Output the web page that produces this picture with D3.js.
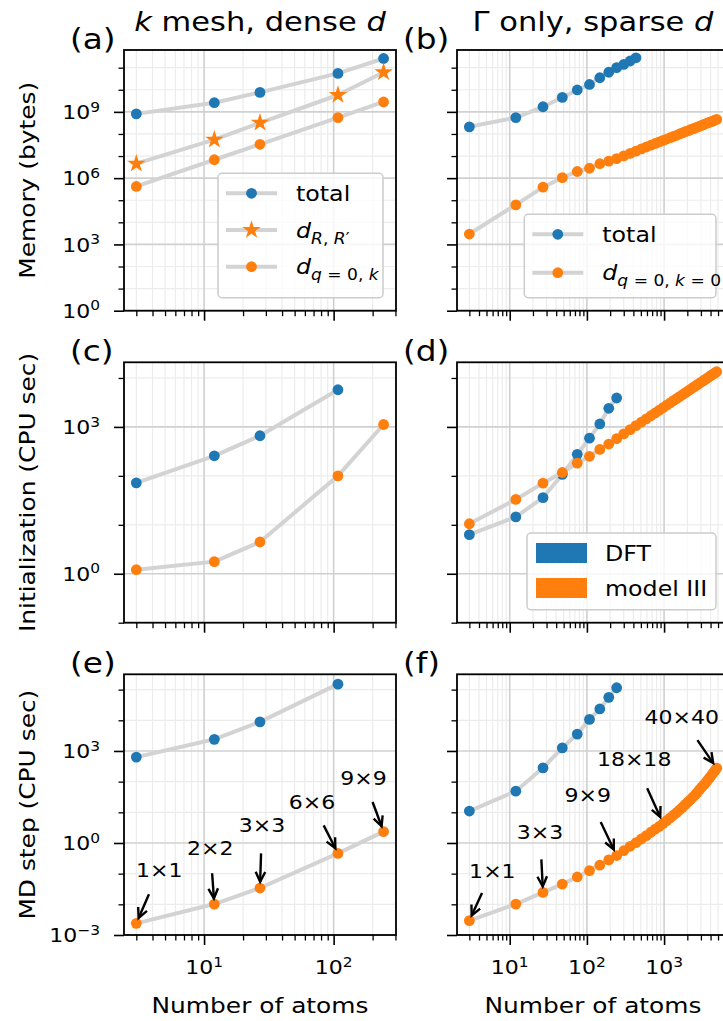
<!DOCTYPE html>
<html>
<head>
<meta charset="utf-8">
<script src="https://cdn.jsdelivr.net/npm/d3@7"></script>
<style>
  body { margin: 0; background: #fff; }
  svg { display: block; font-family: "DejaVu Sans", sans-serif; }
</style>
</head>
<body>
<div id="graph"></div>
<script>
// atoms per cell = 3, supercells 1x1 ... 40x40
var atomsK = [3, 12, 27, 108, 243];
var atomsG = [3, 12, 27, 48, 75, 108, 147, 192, 243, 300, 363, 432, 507, 588, 675, 768, 867, 972, 1083, 1200,
  1323, 1452, 1587, 1728, 1875, 2028, 2187, 2352, 2523, 2700, 2883, 3072, 3267, 3468, 3675, 3888, 4107, 4332, 4563, 4800];

// memory (bytes)
var memKTotal = [8.1e8, 2.6e9, 7.6e9, 5.5e10, 2.6e11];
var memKdRR = [4.5e6, 5.5e7, 3.2e8, 5.8e9, 6.2e10];
var memKdq = [4.2e5, 6.8e6, 3.4e7, 5.5e8, 2.8e9];
var memGTotal = [2.1e8, 5.5e8, 1.7e9, 4.5e9, 9.8e9, 1.74e10, 3.5e10, 6.2e10, 1.0e11, 1.4e11, 2.0e11, 2.8e11];
var memGdq = [2.95e3, 6.2e4, 3.9e5, 1.05e6, 2.0e6, 2.8e6, 4.5e6, 5.9e6, 7.6e6, 1.01e7, 1.32e7, 1.66e7, 2.09e7,
  2.57e7, 3.09e7, 3.72e7, 4.37e7, 5.13e7, 5.89e7, 6.76e7, 7.76e7, 8.71e7, 1.0e8, 1.12e8, 1.26e8, 1.38e8, 1.55e8,
  1.70e8, 1.86e8, 2.04e8, 2.24e8, 2.45e8, 2.69e8, 2.88e8, 3.16e8, 3.39e8, 3.63e8, 3.89e8, 4.27e8, 4.57e8];

// initialization (CPU sec)
var initKDft = [72, 257, 660, 5750];
var initKModel = [1.21, 1.77, 4.45, 100, 1120];
var initGDft = [6.3, 14.5, 36, 107, 275, 590, 1150, 2400, 3900];
var initGModel = [10.5, 33, 71, 117, 182, 251, 347, 447, 575, 720, 880, 1060, 1250, 1460, 1690, 1940, 2200, 2480,
  2790, 3100, 3440, 3790, 4160, 4550, 4970, 5400, 5830, 6310, 6790, 7300, 7820, 8360, 8910, 9480, 10100, 10700,
  11400, 12000, 12700, 13400];

// MD step (CPU sec)
var mdKDft = [631, 2400, 8900, 1.51e5];
var mdKModel = [2.4e-3, 1.02e-2, 3.4e-2, 0.457, 2.34];
var mdGDft = [11, 49, 282, 1260, 3550, 1.07e4, 2.34e4, 5.6e4, 1.15e5];
var mdGModel = [2.95e-3, 1.02e-2, 2.45e-2, 4.57e-2, 7.8e-2, 0.126, 0.19, 0.28, 0.39, 0.56, 0.78, 1.02, 1.35, 1.74,
  2.24, 2.82, 3.47, 4.37, 5.37, 6.61, 8.13, 9.77, 12.0, 14.5, 17.8, 21.4, 25.7, 30.9, 37.2, 44.7, 55.0, 66.1,
  77.6, 93.3, 112, 135, 162, 195, 229, 275];

var kLabels = ["1×1", "2×2", "3×3", "6×6", "9×9"];
var gLabels = ["1×1", "3×3", "9×9", "18×18", "40×40"];
var gLabelIdx = [0, 2, 8, 17, 39];

var yTitles = ["Memory (bytes)", "Initialization (CPU sec)", "MD step (CPU sec)"];
var panelTags = ["(a)", "(b)", "(c)", "(d)", "(e)", "(f)"];
var yMajorExp = [[0, 3, 6, 9], [0, 3], [-3, 0, 3]];

// layout
var W = 723, H = 1021;
var BLUE = "#1f77b4", ORANGE = "#ff7f0e", LINE = "#d3d3d3";
var SX = 1.13;
var STAR = 105;
var colX = [[124, 396], [457, 729]];
var rowY = [[50, 310.7], [362.3, 622.7], [674.3, 935]];
var xDom = [[2.41, 303], [2.075, 6934]];
var yDom = [[1, 6.31e11], [0.1, 2.09e4], [1e-3, 3.16e5]];
var kOffsets = [[23, -53], [-4, -56], [2, -63], [-26, -51], [-20, -54]];
var gOffsets = [[23, -50], [-3, -60], [-29, -61], [-29, -64], [-35, -51]];

var svg = d3.select("#graph").append("svg").attr("width", W).attr("height", H);
var defs = svg.append("defs");

function stext(parent, x, y, size, anchor, rotate) {
  var g = parent.append("g")
    .attr("transform", "translate(" + x + "," + y + ")" + (rotate ? " rotate(-90)" : "") + " scale(" + SX + ",1)");
  return g.append("text").attr("font-size", size).attr("text-anchor", anchor || "start").attr("fill", "#000");
}

function pow10(t, e) {
  t.append("tspan").text("10");
  t.append("tspan").attr("font-size", "0.7em").attr("dy", "-0.55em").text(e < 0 ? "\u2212" + (-e) : String(e));
}

function rich(t, parts) {
  var inSub = false;
  parts.forEach(function (p) {
    var s = t.append("tspan").text(p[0]);
    if (p[1].indexOf("i") >= 0) s.attr("font-style", "italic");
    if (p[1].indexOf("s") >= 0) {
      s.attr("font-size", "0.72em");
      if (!inSub) { s.attr("dy", "0.4em"); inSub = true; }
    }
  });
}

function marker(g, x, y, m, c) {
  if (m === "*") {
    g.append("path").attr("transform", "translate(" + x + "," + y + ")")
      .attr("d", d3.symbol(d3.symbolStar, STAR)()).attr("fill", c);
  } else {
    g.append("circle").attr("cx", x).attr("cy", y).attr("r", 5.4).attr("fill", c);
  }
}

function arrow(g, xs, ys, xt, yt) {
  var a = Math.atan2(yt - ys, xt - xs), L = 11, hw = 0.45;
  g.append("line").attr("x1", xs).attr("y1", ys).attr("x2", xt).attr("y2", yt)
    .attr("stroke", "#000").attr("stroke-width", 2.4);
  g.append("path")
    .attr("d", "M" + (xt - L * Math.cos(a - hw)) + "," + (yt - L * Math.sin(a - hw)) +
      "L" + xt + "," + yt + "L" + (xt - L * Math.cos(a + hw)) + "," + (yt - L * Math.sin(a + hw)))
    .attr("fill", "none").attr("stroke", "#000").attr("stroke-width", 2.4);
}

function legend(g, xr, yb, lg) {
  var left = xr - 13 - lg.w, top = yb - 13 - lg.h;
  g.append("rect").attr("x", left).attr("y", top).attr("width", lg.w).attr("height", lg.h).attr("rx", 4)
    .attr("fill", "#fff").attr("fill-opacity", 0.8).attr("stroke", "#cccccc").attr("stroke-width", 1.5);
  lg.items.forEach(function (it, i) {
    var cy = top + 20 + i * lg.gap;
    if (it.m === "patch") {
      g.append("rect").attr("x", left + 9).attr("y", cy - 10).attr("width", 51).attr("height", 20).attr("fill", it.c);
    } else {
      g.append("line").attr("x1", left + 8).attr("x2", left + 59).attr("y1", cy).attr("y2", cy)
        .attr("stroke", LINE).attr("stroke-width", 4);
      marker(g, left + 33.5, cy, it.m, it.c);
    }
    rich(stext(g, left + 78, cy + 7.5, 21, "start"), it.label);
  });
}

var legA = { w: 165, h: 124.4, gap: 36.7, items: [
  { m: "o", c: BLUE, label: [["total", ""]] },
  { m: "*", c: ORANGE, label: [["d", "i"], ["R", "si"], [", ", "s"], ["R", "si"], ["\u2032", "s"]] },
  { m: "o", c: ORANGE, label: [["d", "i"], ["q", "si"], [" = 0, ", "s"], ["k", "si"]] }
] };
var legB = { w: 191.7, h: 83.4, gap: 38.4, items: [
  { m: "o", c: BLUE, label: [["total", ""]] },
  { m: "o", c: ORANGE, label: [["d", "i"], ["q", "si"], [" = 0, ", "s"], ["k", "si"], [" = 0", "s"]] }
] };
var legD = { w: 189, h: 76.7, gap: 35, items: [
  { m: "patch", c: BLUE, label: [["DFT", ""]] },
  { m: "patch", c: ORANGE, label: [["model III", ""]] }
] };

var panels = [
  { row: 0, col: 0, series: [
    { x: atomsK, y: memKTotal, c: BLUE, m: "o" },
    { x: atomsK, y: memKdRR, c: ORANGE, m: "*" },
    { x: atomsK, y: memKdq, c: ORANGE, m: "o" }], legend: legA },
  { row: 0, col: 1, series: [
    { x: atomsG, y: memGTotal, c: BLUE, m: "o" },
    { x: atomsG, y: memGdq, c: ORANGE, m: "o" }], legend: legB },
  { row: 1, col: 0, series: [
    { x: atomsK, y: initKDft, c: BLUE, m: "o" },
    { x: atomsK, y: initKModel, c: ORANGE, m: "o" }] },
  { row: 1, col: 1, series: [
    { x: atomsG, y: initGDft, c: BLUE, m: "o" },
    { x: atomsG, y: initGModel, c: ORANGE, m: "o" }], legend: legD },
  { row: 2, col: 0, series: [
    { x: atomsK, y: mdKDft, c: BLUE, m: "o" },
    { x: atomsK, y: mdKModel, c: ORANGE, m: "o" }],
    notes: { x: atomsK, y: mdKModel, idx: [0, 1, 2, 3, 4], labels: kLabels, off: kOffsets } },
  { row: 2, col: 1, series: [
    { x: atomsG, y: mdGDft, c: BLUE, m: "o" },
    { x: atomsG, y: mdGModel, c: ORANGE, m: "o" }],
    notes: { x: atomsG, y: mdGModel, idx: gLabelIdx, labels: gLabels, off: gOffsets } }
];

function tidy(sel, w) {
  sel.select(".domain").remove();
  sel.selectAll(".tick line").attr("stroke", "#000").attr("stroke-width", w);
}

panels.forEach(function (p, pi) {
  var x0 = colX[p.col][0], x1 = colX[p.col][1], y0 = rowY[p.row][0], y1 = rowY[p.row][1];
  var xd = xDom[p.col], yd = yDom[p.row];
  var x = d3.scaleLog().domain(xd).range([x0, x1]);
  var y = d3.scaleLog().domain(yd).range([y1, y0]);
  var g = svg.append("g");

  var xMaj = [], xMin = [], e, k, v;
  for (e = -1; e <= 4; e++) {
    for (k = 1; k <= 9; k++) {
      v = k * Math.pow(10, e);
      if (v >= xd[0] && v <= xd[1]) (k === 1 ? xMaj : xMin).push(v);
    }
  }
  var yMaj = yMajorExp[p.row].map(function (e) { return Math.pow(10, e); });
  var yMin = [];
  for (e = -4; e <= 13; e++) {
    v = Math.pow(10, e);
    if (v >= yd[0] * 0.999 && v <= yd[1] && yMajorExp[p.row].indexOf(e) < 0) yMin.push(v);
  }

  // grid
  var grid = g.append("g");
  xMin.forEach(function (v) {
    grid.append("line").attr("x1", x(v)).attr("x2", x(v)).attr("y1", y0).attr("y2", y1)
      .attr("stroke", "#ececec").attr("stroke-width", 1.2);
  });
  yMin.forEach(function (v) {
    grid.append("line").attr("y1", y(v)).attr("y2", y(v)).attr("x1", x0).attr("x2", x1)
      .attr("stroke", "#ececec").attr("stroke-width", 1.2);
  });
  xMaj.forEach(function (v) {
    grid.append("line").attr("x1", x(v)).attr("x2", x(v)).attr("y1", y0).attr("y2", y1)
      .attr("stroke", "#d0d0d0").attr("stroke-width", 1.6);
  });
  yMaj.forEach(function (v) {
    grid.append("line").attr("y1", y(v)).attr("y2", y(v)).attr("x1", x0).attr("x2", x1)
      .attr("stroke", "#d0d0d0").attr("stroke-width", 1.6);
  });

  // data
  var cid = "clip" + pi;
  defs.append("clipPath").attr("id", cid).append("rect")
    .attr("x", x0).attr("y", y0).attr("width", x1 - x0).attr("height", y1 - y0);
  var dg = g.append("g").attr("clip-path", "url(#" + cid + ")");
  var line = d3.line().x(function (d) { return x(d[0]); }).y(function (d) { return y(d[1]); });
  p.series.forEach(function (s) {
    var pts = d3.zip(s.x, s.y);
    dg.append("path").datum(pts).attr("d", line).attr("fill", "none")
      .attr("stroke", LINE).attr("stroke-width", 4).attr("stroke-linejoin", "round");
    if (s.m === "*") {
      dg.selectAll("path.star").data(pts).enter().append("path")
        .attr("transform", function (d) { return "translate(" + x(d[0]) + "," + y(d[1]) + ")"; })
        .attr("d", d3.symbol(d3.symbolStar, STAR)()).attr("fill", s.c);
    } else {
      dg.selectAll("circle.m").data(pts).enter().append("circle")
        .attr("cx", function (d) { return x(d[0]); })
        .attr("cy", function (d) { return y(d[1]); })
        .attr("r", 5.4).attr("fill", s.c);
    }
  });

  // ticks
  g.append("g").attr("transform", "translate(0," + y1 + ")")
    .call(d3.axisBottom(x).tickValues(xMin).tickSize(5.5).tickFormat("")).call(tidy, 1.3);
  g.append("g").attr("transform", "translate(0," + y1 + ")")
    .call(d3.axisBottom(x).tickValues(xMaj).tickSize(10).tickFormat("")).call(tidy, 1.6);
  g.append("g").attr("transform", "translate(" + x0 + ",0)")
    .call(d3.axisLeft(y).tickValues(yMin).tickSize(5.5).tickFormat("")).call(tidy, 1.3);
  g.append("g").attr("transform", "translate(" + x0 + ",0)")
    .call(d3.axisLeft(y).tickValues(yMaj).tickSize(10).tickFormat("")).call(tidy, 1.6);

  // spines
  g.append("rect").attr("x", x0).attr("y", y0).attr("width", x1 - x0).attr("height", y1 - y0)
    .attr("fill", "none").attr("stroke", "#000").attr("stroke-width", 1.8);

  if (p.col === 0) {
    yMajorExp[p.row].forEach(function (e) {
      pow10(stext(g, x0 - 24, y(Math.pow(10, e)) + 7.2, 19.5, "end"), e);
    });
    stext(g, 35, (y0 + y1) / 2, 22, "middle", true).text(yTitles[p.row]);
  }
  if (p.row === 2) {
    xMaj.forEach(function (v) {
      pow10(stext(g, x(v), y1 + 39, 19.5, "middle"), Math.round(Math.log10(v)));
    });
    stext(g, (x0 + x1) / 2, 1012.5, 22, "middle").text("Number of atoms");
  }
  if (p.row === 0) {
    var tt = stext(g, (x0 + x1) / 2, 30.5, 27, "middle");
    if (p.col === 0) rich(tt, [["k", "i"], [" mesh, dense ", ""], ["d", "i"]]);
    else rich(tt, [["\u0393 only, sparse ", ""], ["d", "i"]]);
  }
  stext(g, x0 - 54, y0 - 1.5, 29, "start").text(panelTags[pi]);

  if (p.notes) {
    var n = p.notes;
    n.idx.forEach(function (ix, j) {
      var px = x(n.x[ix]), py = y(n.y[ix]), o = n.off[j];
      arrow(g, px + 0.55 * o[0], py + 0.55 * o[1], px + 0.1 * o[0], py + 0.1 * o[1]);
      stext(g, px + o[0], py + o[1] + 7, 19.5, "middle").text(n.labels[j]);
    });
  }

  if (p.legend) legend(g, x1, y1, p.legend);
});
</script>
</body>
</html>
